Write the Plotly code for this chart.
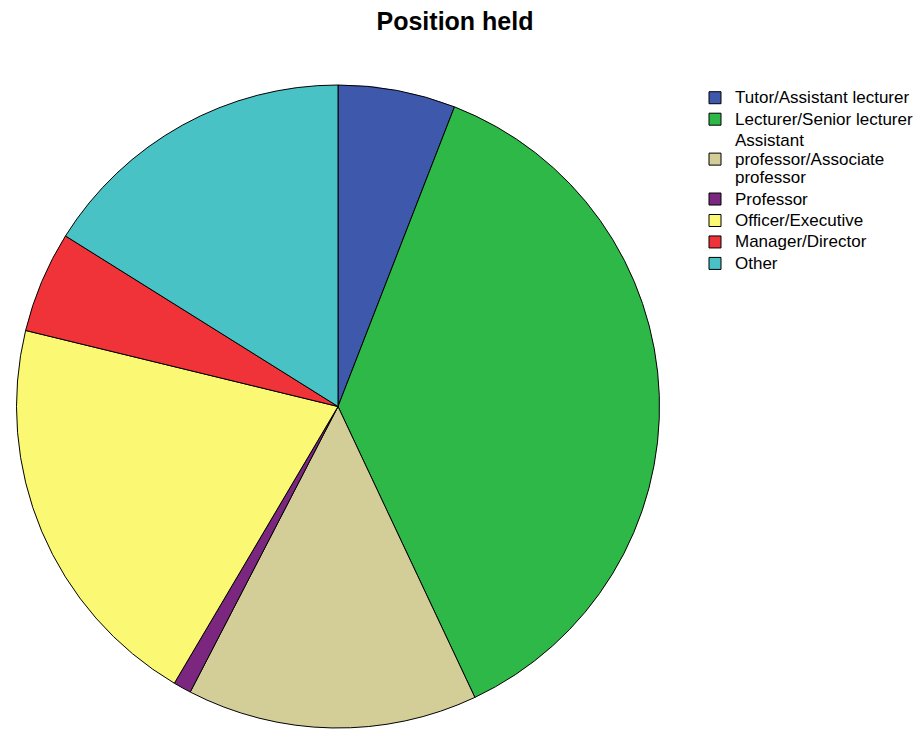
import plotly.graph_objects as go

labels = ["Tutor/Assistant lecturer", "Lecturer/Senior lecturer",
          "Assistant<br>professor/Associate<br>professor", "Professor",
          "Officer/Executive", "Manager/Director", "Other"]
values = [5.9, 37.1, 14.6, 0.9, 20.3, 5.1, 16.1]
colors = ["#3E58AC", "#2EB848", "#D3CE97", "#7B2780", "#FBF873", "#EF3338", "#48C2C5"]

legend_labels = ["<br>".join('<span style="font-size:17px">%s</span>' % part
                             for part in lab.split("<br>")) for lab in labels]

W, H = 922, 729
fig = go.Figure(go.Pie(
    labels=legend_labels, values=values, sort=False, direction="clockwise", rotation=0,
    marker=dict(colors=colors, line=dict(color="black", width=1)),
    textinfo="none", hoverinfo="label+percent",
    domain=dict(x=[16 / W, 660 / W], y=[1 - 728 / H, 1 - 85 / H]),
))
fig.update_layout(
    width=W, height=H, margin=dict(l=0, r=0, t=0, b=0),
    paper_bgcolor="white", plot_bgcolor="white",
    font=dict(family="Liberation Sans, Arial, sans-serif", size=14, color="black"),
    title=dict(text="<b>Position held</b>", x=455 / W, xanchor="center", y=1 - 21 / H,
               yanchor="middle", font=dict(size=25, color="black")),
    legend=dict(x=695 / W, y=1 - 82 / H, xanchor="left", yanchor="top",
                font=dict(size=14.2), itemwidth=30, tracegroupgap=0,
                bgcolor="rgba(0,0,0,0)"),
)
fig.write_html("out.html")
